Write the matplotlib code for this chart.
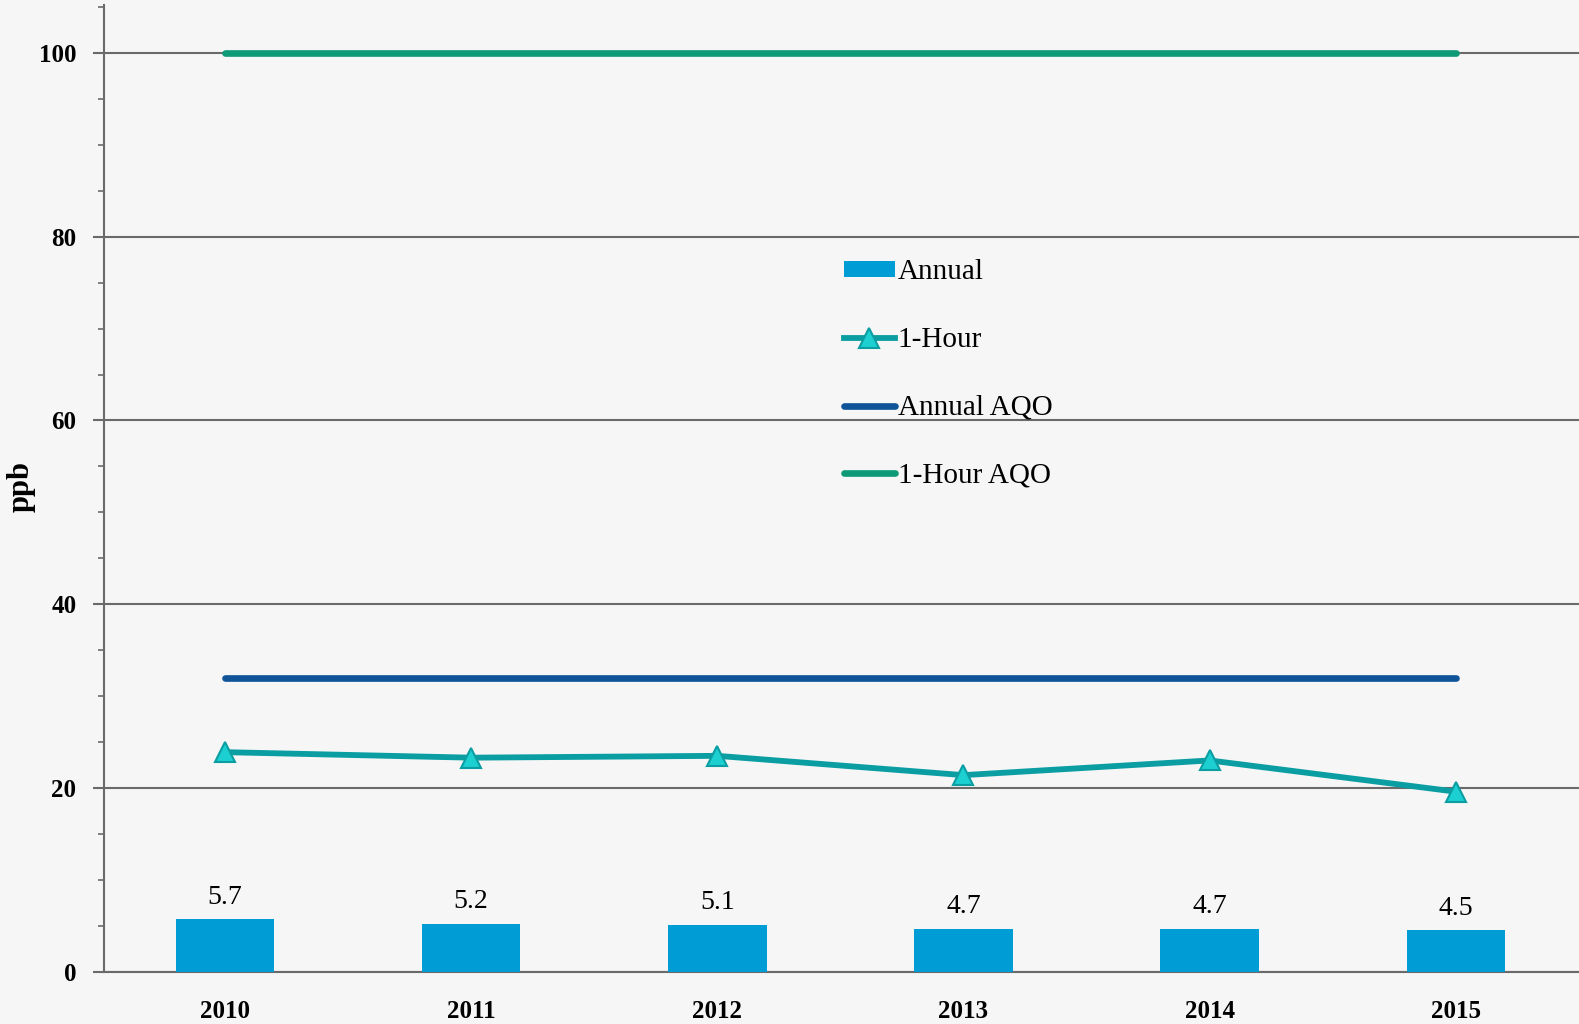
import matplotlib
matplotlib.use("Agg")
import matplotlib.pyplot as plt
from matplotlib.ticker import MultipleLocator

years = ["2010", "2011", "2012", "2013", "2014", "2015"]
annual = [5.7, 5.2, 5.1, 4.7, 4.7, 4.5]
one_hour = [23.9, 23.3, 23.5, 21.4, 23.0, 19.6]
annual_aqo = [32, 32, 32, 32, 32, 32]
one_hour_aqo = [100, 100, 100, 100, 100, 100]

plt.rcParams["font.family"] = ["Liberation Serif", "DejaVu Serif"]

bg = "#f6f6f6"
fig = plt.figure(figsize=(15.79, 10.24), dpi=100, facecolor=bg)
ax = fig.add_axes([0.066, 0.051, 0.934, 0.944], facecolor=bg)

x = list(range(len(years)))
h_bar = ax.bar(x, annual, width=0.4, color="#009cd6", label="Annual", zorder=3)
h_hour, = ax.plot(x, one_hour, color="#0a9ea2", lw=4.2, marker="^", ms=15,
                  mfc="#1ccfd0", mec="#0a9ea2", mew=1.5, label="1-Hour", zorder=4)
h_aaqo, = ax.plot(x, annual_aqo, color="#0f5499", lw=4.8, solid_capstyle="round",
                  label="Annual AQO", zorder=4)
h_haqo, = ax.plot(x, one_hour_aqo, color="#0e9a76", lw=4.8, solid_capstyle="round",
                  label="1-Hour AQO", zorder=4)

for xi, v in zip(x, annual):
    ax.annotate(f"{v}", (xi, v), xytext=(0, 7), textcoords="offset points",
                ha="center", va="bottom", fontsize=20)

ax.set_xlim(-0.49, 5.5)
ax.set_ylim(0, 105.2)
ax.yaxis.set_major_locator(MultipleLocator(20))
ax.yaxis.set_minor_locator(MultipleLocator(5))
ax.grid(axis="y", which="major", color="#6a6a6a", lw=1.5, zorder=1)
ax.set_xticks(x)
ax.set_xticklabels(years, fontsize=18, fontweight="bold")
ax.tick_params(axis="x", length=0, pad=20)
ax.tick_params(axis="y", which="major", length=8, width=1.5, color="#6a6a6a",
               labelsize=18, pad=12)
ax.tick_params(axis="y", which="minor", length=4, width=1.2, color="#6a6a6a")
for lbl in ax.get_yticklabels():
    lbl.set_fontweight("bold")
for s in ("top", "right"):
    ax.spines[s].set_visible(False)
for s in ("left", "bottom"):
    ax.spines[s].set_color("#6a6a6a")
    ax.spines[s].set_linewidth(1.5)

fig.text(0.0135, 0.525, "ppb", rotation=90, fontsize=22, fontweight="bold",
         ha="center", va="center")

ax.legend([h_bar, h_hour, h_aaqo, h_haqo],
          ["Annual", "1-Hour", "Annual AQO", "1-Hour AQO"],
          loc="upper left", bbox_to_anchor=(0.527, 0.758),
          bbox_transform=fig.transFigure, frameon=False, fontsize=21,
          handlelength=1.75, handleheight=0.5, handletextpad=0.1,
          labelspacing=1.43, borderaxespad=0)

fig.savefig("out.png", dpi=100, facecolor=bg)
